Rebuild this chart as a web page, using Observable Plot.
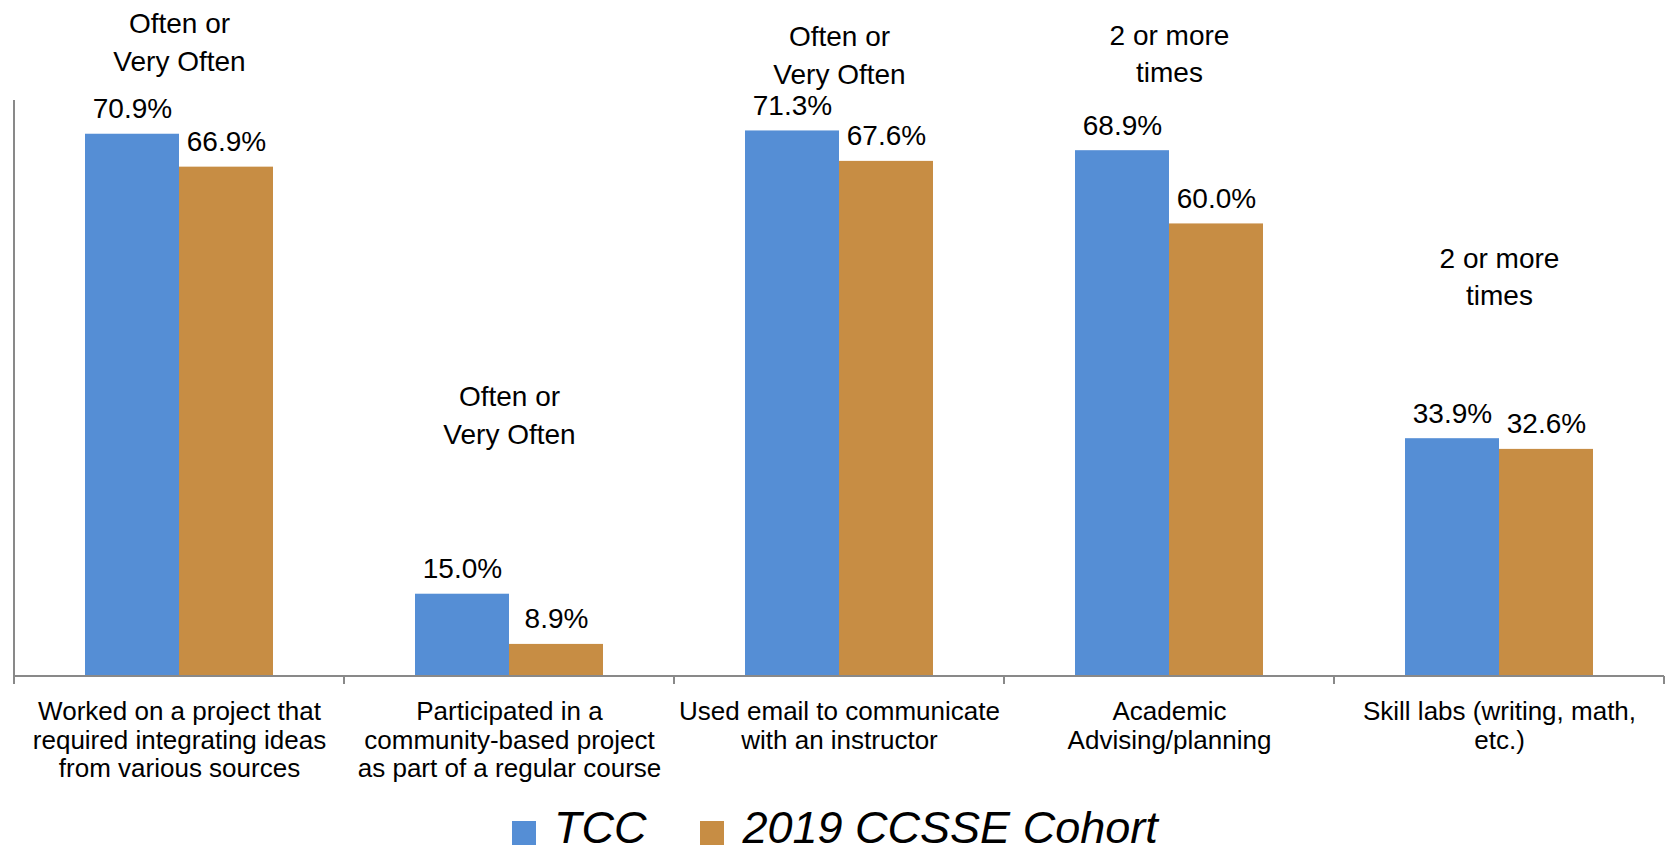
<!DOCTYPE html>
<html>
<head>
<meta charset="utf-8">
<script src="https://cdn.jsdelivr.net/npm/d3@7"></script>
<script src="https://cdn.jsdelivr.net/npm/@observablehq/plot@0.6"></script>
<style>
  html, body { margin: 0; padding: 0; background: #fff; overflow: hidden; }
  body { width: 1669px; height: 854px; font-family: "Liberation Sans", Arial, sans-serif; }
  #legend { display: flex; align-items: flex-start; height: 52px; margin-top: -4px; padding-left: 512px; font-style: italic; font-size: 45px; line-height: 52px; color: #000; }
  .item { display: flex; align-items: flex-start; }
  .sw { width: 24px; height: 24px; margin-top: 19px; margin-right: 18px; }
</style>
</head>
<body>
<div id="chart"></div>
<div id="legend"></div>
<script>
const categories = [
  "Worked on a project that\nrequired integrating ideas\nfrom various sources",
  "Participated in a\ncommunity-based project\nas part of a regular course",
  "Used email to communicate\nwith an instructor",
  "Academic\nAdvising/planning",
  "Skill labs (writing, math,\netc.)"
];
const series = ["TCC", "2019 CCSSE Cohort"];
const tccValues = [70.9, 15.0, 71.3, 68.9, 33.9];
const cohortValues = [66.9, 8.9, 67.6, 60.0, 32.6];
const notes = ["Often or\nVery Often", "Often or\nVery Often", "Often or\nVery Often", "2 or more\ntimes", "2 or more\ntimes"];
const noteY = [78.6, 33.3, 77.0, 77.2, 50.1];
const colors = ["#558ed5", "#c78d44"];
const yDomain = [5, 75];

const data = [];
categories.forEach((c, i) => {
  data.push({category: c, series: series[0], value: tccValues[i]});
  data.push({category: c, series: series[1], value: cohortValues[i]});
});
const noteData = categories.map((c, i) => ({category: c, note: notes[i], y: noteY[i]}));

const font = "Liberation Sans, Arial, sans-serif";

const chart = Plot.plot({
  width: 1669,
  height: 806,
  marginLeft: 12,
  marginRight: 3,
  marginTop: 100,
  marginBottom: 130,
  style: {fontFamily: font, color: "#000", background: "#fff"},
  fx: {domain: categories, padding: 0, label: null},
  x: {domain: series, paddingInner: 0, paddingOuter: 0.7466, axis: null},
  y: {domain: yDomain, axis: null},
  color: {domain: series, range: colors},
  marks: [
    Plot.axisFx({anchor: "bottom", tickSize: 0, tickPadding: 23, fontSize: 26, lineHeight: 1.104, label: null, fill: "#000"}),
    Plot.barY(data, {fx: "category", x: "series", y1: yDomain[0], y2: "value", fill: "series"}),
    Plot.text(data, {fx: "category", x: "series", y: "value", text: d => d.value.toFixed(1) + "%", lineAnchor: "bottom", dy: -16, fontSize: 28, fill: "#000"}),
    Plot.text(noteData, {fx: "category", y: "y", text: "note", lineAnchor: "bottom", lineHeight: 1.35, fontSize: 28, fill: "#000"})
  ]
});

document.getElementById("chart").appendChild(chart);

// axis lines & boundary ticks from the library's scales
const fx = chart.scale("fx");
const y = chart.scale("y");
const svg = d3.select(chart);
const g = svg.append("g").attr("stroke", "#898989").attr("stroke-width", 2);
const x0 = fx.apply(categories[0]);
const bounds = categories.map(c => fx.apply(c)).concat([fx.apply(categories[categories.length - 1]) + fx.step]);
const yb = y.apply(yDomain[0]);
const yt = y.apply(yDomain[1]);
g.append("line").attr("x1", x0).attr("x2", bounds[bounds.length - 1]).attr("y1", yb).attr("y2", yb);
g.append("line").attr("x1", x0).attr("x2", x0).attr("y1", yt).attr("y2", yb);
bounds.forEach(b => {
  g.append("line").attr("x1", b).attr("x2", b).attr("y1", yb).attr("y2", yb + 8);
});

// legend
const legend = d3.select("#legend");
series.forEach((s, i) => {
  const item = legend.append("div").attr("class", "item").style("margin-right", i === 0 ? "54px" : "0px");
  item.append("div").attr("class", "sw").style("background", colors[i]);
  item.append("span").text(s);
});
</script>
</body>
</html>
